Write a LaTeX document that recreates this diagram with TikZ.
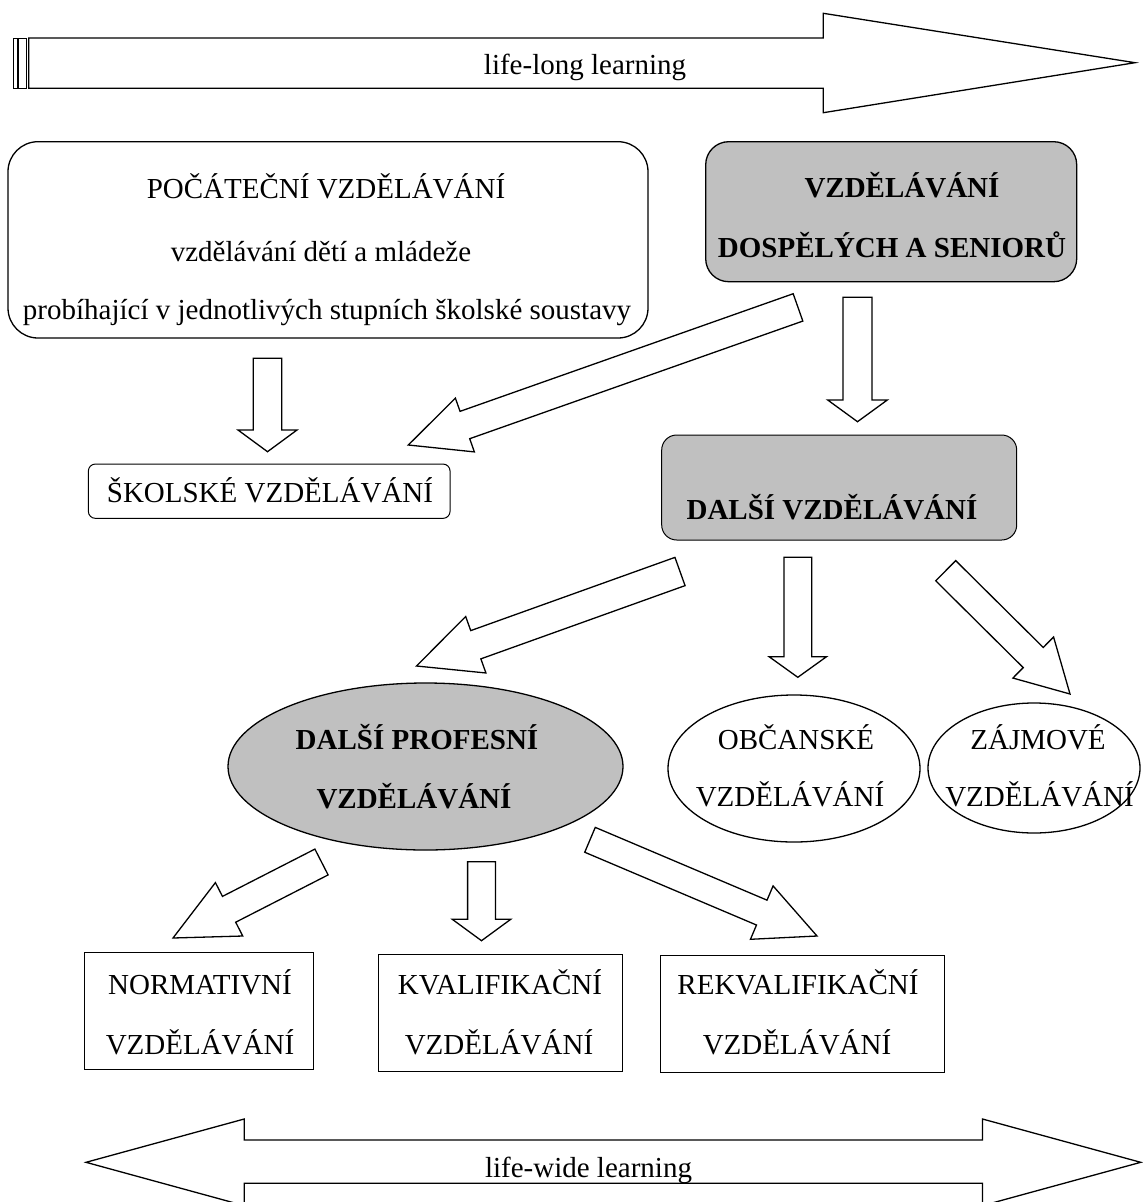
\documentclass[tikz,border=0pt]{standalone}
\usepackage{fontspec}
\setmainfont{Liberation Serif}
\usetikzlibrary{calc,shapes.geometric}
\definecolor{boxgray}{RGB}{192,192,192}
\newcommand{\blockarrow}[6]{%
  \coordinate (#1-n) at ($(#3)!#6!(#2)$);
  \draw[barrow] ($(#2)!#4!90:(#3)$) -- ($(#1-n)!#4!90:(#3)$) -- ($(#1-n)!#5!90:(#3)$) -- (#3)
     -- ($(#1-n)!#5!-90:(#3)$) -- ($(#1-n)!#4!-90:(#3)$) -- ($(#2)!#4!-90:(#3)$) -- cycle;
}
\begin{document}
\begin{tikzpicture}[x=1pt,y=-1pt,
  txt/.style={anchor=base, inner sep=0pt, font=\fontsize{29}{35}\selectfont},
  btxt/.style={anchor=base, inner sep=0pt, font=\fontsize{29}{35}\selectfont\bfseries},
  shapeline/.style={draw, line width=1.3pt},
  rbox/.style={shapeline, rectangle, inner sep=0pt},
  ell/.style={shapeline, ellipse, inner sep=0pt},
  sqbox/.style={draw, line width=0.9pt, rectangle, inner sep=0pt},
  barrow/.style={draw, line width=1.3pt, fill=white, line join=miter},
  bar/.style={draw, line width=0.9pt, fill=white}]

\useasboundingbox (0,0) rectangle (1143,1202);
\clip (0,0) rectangle (1143,1202);

% life-long learning arrow
\draw[bar] (13.3,38) rectangle (17.3,88.5);
\draw[bar] (18.5,38) rectangle (26.3,88.5);
\draw[barrow] (28.7,38) -- (823.3,38) -- (823.3,13.3) -- (1135,62.7) -- (823.3,112.7) -- (823.3,88.3) -- (28.7,88.3) -- cycle;
\node[txt] (lifelong) at (585,74) {life-long learning};

% boxes
\node[rbox, rounded corners=30pt, minimum width=640pt, minimum height=196.3pt] (init) at (328,239.85) {};
\node[txt] (init1) at (326,198.5) {POČÁTEČNÍ VZDĚLÁVÁNÍ};
\node[txt] (init2) at (321,261) {vzdělávání dětí a mládeže};
\node[txt] (init3) at (327,319) {probíhající v jednotlivých stupních školské soustavy};

\node[rbox, fill=boxgray, rounded corners=23pt, minimum width=371pt, minimum height=140pt] (adult) at (891.2,211.7) {};
\node[btxt] (adult1) at (902,197) {VZDĚLÁVÁNÍ};
\node[btxt] (adult2) at (892,257.5) {DOSPĚLÝCH A SENIORŮ};

\node[shapeline, rectangle, line width=1pt, inner sep=0pt, rounded corners=7pt, minimum width=361.7pt, minimum height=54.3pt] (school) at (269.2,491.2) {};
\node[txt] (school1) at (270,502) {ŠKOLSKÉ VZDĚLÁVÁNÍ};

\node[rbox, fill=boxgray, line width=1pt, rounded corners=15pt, minimum width=355pt, minimum height=105pt] (further) at (839.2,487.5) {};
\node[btxt] (further1) at (832,519.6) {DALŠÍ VZDĚLÁVÁNÍ};

% ellipses
\node[ell, fill=boxgray, minimum width=395pt, minimum height=167pt] (prof) at (425.5,766.5) {};
\node[btxt] (prof1) at (417,749.6) {DALŠÍ PROFESNÍ};
\node[btxt] (prof2) at (414,808.6) {VZDĚLÁVÁNÍ};

\node[ell, minimum width=252pt, minimum height=147pt] (civic) at (794,768.5) {};
\node[txt] (civic1) at (796,749.6) {OBČANSKÉ};
\node[txt] (civic2) at (790,806.6) {VZDĚLÁVÁNÍ};

\node[ell, minimum width=212pt, minimum height=130pt] (interest) at (1034,768) {};
\node[txt] (interest1) at (1038,749.6) {ZÁJMOVÉ};
\node[txt] (interest2) at (1039.5,806.6) {VZDĚLÁVÁNÍ};

% bottom boxes
\node[sqbox, minimum width=229pt, minimum height=117pt] (norm) at (198.5,1010.5) {};
\node[txt] (norm1) at (200,994.6) {NORMATIVNÍ};
\node[txt] (norm2) at (200,1054.6) {VZDĚLÁVÁNÍ};

\node[sqbox, minimum width=244pt, minimum height=117pt] (qual) at (500,1012.5) {};
\node[txt] (qual1) at (500,994.6) {KVALIFIKAČNÍ};
\node[txt] (qual2) at (499,1054.6) {VZDĚLÁVÁNÍ};

\node[sqbox, minimum width=284pt, minimum height=117pt] (requal) at (802,1013.5) {};
\node[txt] (requal1) at (798,994.6) {REKVALIFIKAČNÍ};
\node[txt] (requal2) at (797,1054.6) {VZDĚLÁVÁNÍ};

% block arrows: tail and tip coordinates
\coordinate (a1t) at (267.5,358.3);  \coordinate (a1p) at (267.5,451.7);
\coordinate (a2t) at (798,307.4);    \coordinate (a2p) at (408.3,445);
\coordinate (a3t) at (857.5,297.3);  \coordinate (a3p) at (857.5,421.7);
\coordinate (b1t) at (680,571.5);    \coordinate (b1p) at (416.5,666);
\coordinate (b2t) at (797.8,557.3);  \coordinate (b2p) at (797.8,677.3);
\coordinate (b3t) at (945.7,570.7);  \coordinate (b3p) at (1070,694);
\coordinate (c1t) at (321.5,862);    \coordinate (c1p) at (173,938);
\coordinate (c2t) at (481.5,861.7);  \coordinate (c2p) at (481.5,940.7);
\coordinate (c3t) at (590,839.8);    \coordinate (c3p) at (817,936);

\blockarrow{a1}{a1t}{a1p}{14.2pt}{29.5pt}{21.7pt}
\blockarrow{a2}{a2t}{a2p}{14.5pt}{28.5pt}{60pt}
\blockarrow{a3}{a3t}{a3p}{14.5pt}{29.8pt}{21.7pt}
\blockarrow{b1}{b1t}{b1p}{15pt}{30pt}{63pt}
\blockarrow{b2}{b2t}{b2p}{13.9pt}{28.7pt}{20.6pt}
\blockarrow{b3}{b3t}{b3p}{14.2pt}{28.9pt}{51.8pt}
\blockarrow{c1}{c1t}{c1p}{14.5pt}{30pt}{63pt}
\blockarrow{c2}{c2t}{c2p}{13.9pt}{29.2pt}{21.4pt}
\blockarrow{c3}{c3t}{c3p}{13.5pt}{29pt}{60pt}

% life-wide learning arrow
\draw[barrow] (86,1162.3) -- (244.2,1119) -- (244.2,1140) -- (982.5,1140) -- (982.5,1119) -- (1140.7,1162.3)
  -- (982.5,1205.6) -- (982.5,1183.3) -- (244.2,1183.3) -- (244.2,1205.6) -- cycle;
\node[txt] (lifewide) at (588.5,1177) {life-wide learning};
\end{tikzpicture}
\end{document}
